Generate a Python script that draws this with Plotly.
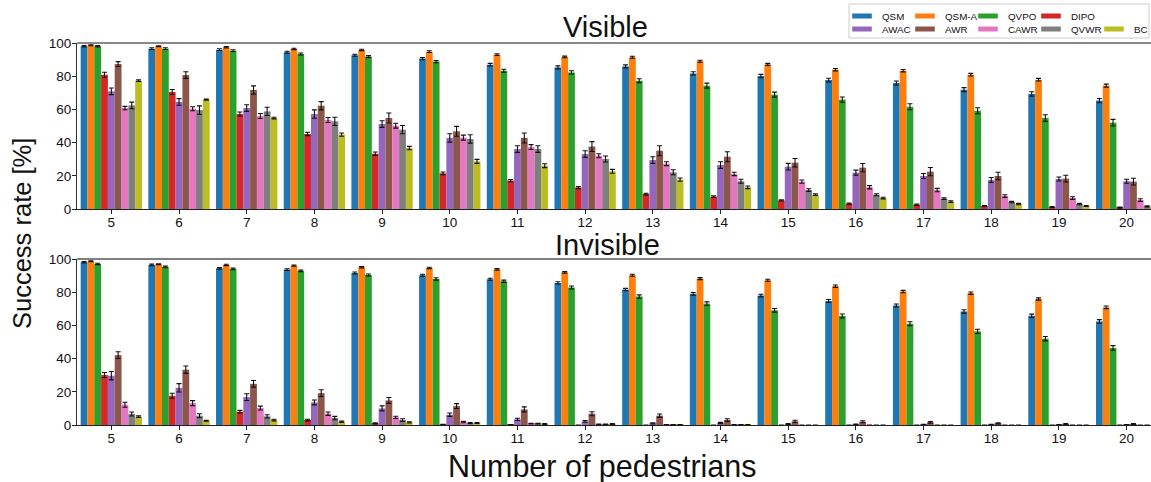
import plotly.graph_objects as go

categories = [str(n) for n in range(5, 21)]
methods = ["QSM", "QSM-A", "QVPO", "DIPO", "AWAC", "AWR", "CAWR", "QVWR", "BC"]
colors = ["#1f77b4", "#ff7f0e", "#2ca02c", "#d62728", "#9467bd",
          "#8c564b", "#e377c2", "#7f7f7f", "#bcbd22"]

# ---- Visible ----
vis_QSM   = [98.0, 96.6, 96.0, 94.4, 92.6, 90.6, 86.9, 85.3, 85.9, 81.7, 80.1, 77.7, 75.9, 71.9, 69.3, 65.3]
vis_QSMA  = [98.6, 98.0, 97.4, 96.4, 95.8, 94.8, 93.0, 91.6, 91.4, 89.0, 87.1, 83.9, 83.3, 80.9, 77.9, 74.3]
vis_QVPO  = [98.0, 96.6, 95.4, 93.4, 91.8, 88.8, 83.3, 82.3, 77.3, 74.3, 68.9, 65.9, 61.6, 59.2, 54.8, 52.0]
vis_DIPO  = [80.9, 70.5, 57.2, 45.2, 33.3, 21.5, 17.1, 12.9, 9.0, 7.4, 5.2, 3.2, 2.6, 1.8, 1.2, 0.8]
vis_AWAC  = [70.9, 64.5, 60.8, 57.2, 51.2, 42.8, 36.1, 33.1, 29.5, 26.5, 25.5, 21.9, 19.9, 17.5, 18.1, 16.7]
vis_AWR   = [87.3, 80.7, 71.7, 62.2, 54.8, 46.8, 42.8, 37.6, 35.1, 31.5, 27.9, 24.9, 22.5, 19.9, 18.3, 16.5]
vis_CAWR  = [60.8, 60.4, 56.0, 53.6, 50.2, 43.0, 37.3, 32.1, 27.3, 21.1, 16.5, 13.1, 11.4, 7.8, 6.6, 5.4]
vis_QVWR  = [62.4, 59.6, 58.8, 52.8, 47.8, 42.2, 36.1, 30.1, 22.1, 16.7, 11.4, 8.6, 6.2, 4.2, 3.0, 1.6]
vis_BC    = [77.3, 65.9, 54.8, 44.8, 36.7, 28.7, 26.1, 22.7, 17.7, 13.1, 8.6, 6.6, 4.4, 3.0, 1.8, 1.2]

vis_QSM_err  = [0.4, 0.5, 0.5, 0.6, 0.6, 0.7, 0.8, 0.9, 0.9, 1.0, 1.0, 1.1, 1.2, 1.2, 1.3, 1.3]
vis_QSMA_err = [0.3, 0.3, 0.4, 0.4, 0.4, 0.5, 0.5, 0.5, 0.6, 0.6, 0.6, 0.7, 0.7, 0.8, 0.8, 0.9]
vis_QVPO_err = [0.4, 0.5, 0.5, 0.6, 0.6, 0.7, 0.9, 1.0, 1.2, 1.5, 1.5, 1.6, 1.8, 1.8, 2.0, 2.0]
vis_DIPO_err = [1.5, 1.5, 1.2, 1.0, 1.0, 0.8, 0.7, 0.6, 0.5, 0.5, 0.4, 0.4, 0.4, 0.3, 0.3, 0.3]
vis_AWAC_err = [2.0, 2.0, 2.0, 2.5, 2.0, 2.5, 2.0, 2.0, 2.0, 2.0, 2.0, 1.5, 1.5, 1.5, 1.2, 1.2]
vis_AWR_err  = [1.5, 2.0, 2.5, 2.5, 3.0, 3.0, 3.0, 3.0, 3.0, 3.0, 2.5, 2.5, 2.5, 2.2, 2.0, 2.0]
vis_CAWR_err = [1.0, 1.2, 1.5, 1.5, 1.5, 1.5, 1.5, 1.2, 1.2, 1.0, 1.0, 1.0, 1.0, 0.8, 0.8, 0.8]
vis_QVWR_err = [2.0, 2.5, 2.5, 2.5, 2.5, 2.5, 2.0, 1.8, 1.5, 1.2, 0.8, 0.6, 0.5, 0.4, 0.4, 0.3]
vis_BC_err   = [0.5, 0.3, 0.5, 1.0, 1.0, 1.2, 1.2, 1.2, 1.0, 0.8, 0.5, 0.5, 0.5, 0.4, 0.3, 0.3]

# ---- Invisible ----
inv_QSM   = [98.0, 96.4, 94.4, 93.6, 91.6, 90.2, 87.8, 85.6, 81.6, 79.0, 78.0, 74.7, 72.0, 68.4, 65.8, 62.4]
inv_QSMA  = [98.6, 96.8, 96.4, 96.0, 95.0, 94.6, 93.8, 92.0, 90.2, 88.2, 87.2, 83.6, 80.4, 79.4, 75.9, 70.9]
inv_QVPO  = [97.0, 95.2, 94.0, 92.8, 90.4, 88.0, 86.6, 82.8, 77.4, 73.1, 69.1, 65.7, 61.0, 56.4, 52.0, 46.4]
inv_DIPO  = [30.1, 17.6, 8.0, 3.0, 1.0, 0.2, 0.1, 0.0, 0.0, 0.0, 0.0, 0.0, 0.0, 0.0, 0.0, 0.0]
inv_AWAC  = [29.7, 22.4, 16.8, 13.6, 10.0, 6.2, 3.4, 2.2, 1.0, 1.2, 0.6, 0.4, 0.2, 0.2, 0.1, 0.1]
inv_AWR   = [42.1, 33.3, 24.8, 19.2, 14.8, 11.4, 9.4, 6.8, 5.6, 3.0, 2.2, 2.0, 1.6, 1.0, 0.6, 0.6]
inv_CAWR  = [12.2, 13.2, 10.2, 6.8, 4.6, 1.8, 0.8, 0.4, 0.2, 0.1, 0.0, 0.0, 0.0, 0.0, 0.0, 0.0]
inv_QVWR  = [6.6, 5.6, 5.2, 4.2, 3.0, 1.2, 0.8, 0.4, 0.2, 0.1, 0.0, 0.0, 0.0, 0.0, 0.0, 0.0]
inv_BC    = [5.0, 2.6, 3.0, 2.0, 1.6, 1.2, 0.6, 0.6, 0.2, 0.1, 0.0, 0.0, 0.0, 0.0, 0.0, 0.0]

inv_QSM_err  = [0.4, 0.5, 0.5, 0.5, 0.6, 0.6, 0.6, 0.7, 0.7, 0.8, 0.8, 0.9, 0.9, 1.0, 1.0, 1.1]
inv_QSMA_err = [0.3, 0.3, 0.4, 0.4, 0.4, 0.4, 0.5, 0.5, 0.6, 0.6, 0.6, 0.7, 0.7, 0.7, 0.7, 0.8]
inv_QVPO_err = [0.4, 0.5, 0.5, 0.5, 0.6, 0.7, 0.7, 0.9, 1.0, 1.1, 1.1, 1.2, 1.2, 1.3, 1.3, 1.4]
inv_DIPO_err = [1.5, 1.5, 0.8, 0.5, 0.3, 0.2, 0.1, 0.0, 0.0, 0.0, 0.0, 0.0, 0.0, 0.0, 0.0, 0.0]
inv_AWAC_err = [2.5, 2.5, 2.0, 1.5, 1.5, 1.0, 0.7, 0.5, 0.4, 0.4, 0.3, 0.2, 0.2, 0.2, 0.1, 0.1]
inv_AWR_err  = [2.0, 2.2, 2.0, 2.0, 1.8, 1.5, 1.5, 1.2, 1.0, 0.8, 0.7, 0.6, 0.5, 0.4, 0.3, 0.3]
inv_CAWR_err = [1.5, 1.5, 1.2, 1.0, 0.7, 0.4, 0.2, 0.2, 0.1, 0.1, 0.0, 0.0, 0.0, 0.0, 0.0, 0.0]
inv_QVWR_err = [1.2, 1.2, 1.0, 1.0, 0.8, 0.3, 0.2, 0.2, 0.1, 0.1, 0.0, 0.0, 0.0, 0.0, 0.0, 0.0]
inv_BC_err   = [0.5, 0.3, 0.5, 0.4, 0.4, 0.3, 0.2, 0.2, 0.1, 0.1, 0.0, 0.0, 0.0, 0.0, 0.0, 0.0]

visible = [vis_QSM, vis_QSMA, vis_QVPO, vis_DIPO, vis_AWAC, vis_AWR, vis_CAWR, vis_QVWR, vis_BC]
visible_err = [vis_QSM_err, vis_QSMA_err, vis_QVPO_err, vis_DIPO_err, vis_AWAC_err,
               vis_AWR_err, vis_CAWR_err, vis_QVWR_err, vis_BC_err]
invisible = [inv_QSM, inv_QSMA, inv_QVPO, inv_DIPO, inv_AWAC, inv_AWR, inv_CAWR, inv_QVWR, inv_BC]
invisible_err = [inv_QSM_err, inv_QSMA_err, inv_QVPO_err, inv_DIPO_err, inv_AWAC_err,
                 inv_AWR_err, inv_CAWR_err, inv_QVWR_err, inv_BC_err]

W, H = 1151, 482
ML, MR, MT, MB = 77, 0, 43, 57
FONT = "Liberation Sans, Arial, sans-serif"

fig = go.Figure()
err_style = dict(type="data", color="#111111", thickness=1.1, width=2.5, visible=True)

for i, m in enumerate(methods):
    fig.add_trace(go.Bar(
        x=categories, y=visible[i], name=m, marker_color=colors[i], marker_line_width=0,
        error_y=dict(array=visible_err[i], **err_style),
        xaxis="x", yaxis="y", showlegend=False, offsetgroup=str(i),
    ))
for i, m in enumerate(methods):
    fig.add_trace(go.Bar(
        x=categories, y=invisible[i], name=m, marker_color=colors[i], marker_line_width=0,
        error_y=dict(array=invisible_err[i], **err_style),
        xaxis="x2", yaxis="y2", showlegend=False, offsetgroup=str(i),
    ))
# legend-only entries with wide rectangular swatches
for i, m in enumerate(methods):
    fig.add_trace(go.Scatter(
        x=[None], y=[None], name=m, mode="markers",
        marker=dict(symbol="line-ew-open", size=14, color=colors[i],
                    line=dict(color=colors[i], width=5)),
        xaxis="x", yaxis="y", legend=("legend" if i < 4 else "legend2"),
        showlegend=True, hoverinfo="skip",
    ))
    if i == 3:
        # empty fifth slot of the first legend row (as in the reference)
        fig.add_trace(go.Scatter(
            x=[None], y=[None], name=" ", mode="markers",
            marker=dict(symbol="line-ew-open", size=14, color="rgba(0,0,0,0)",
                        line=dict(color="rgba(0,0,0,0)", width=5)),
            xaxis="x", yaxis="y", legend="legend", showlegend=True, hoverinfo="skip",
        ))

plot_h = H - MT - MB
top_lo = (H - MB - 209) / plot_h
bot_hi = (H - MB - 259) / plot_h
plot_w = W - ML - MR

xcommon = dict(type="category", range=[-0.507, 15.36], showline=True, linecolor="#222222",
               linewidth=1, ticks="outside", ticklen=4, tickwidth=1, tickcolor="#222222",
               showgrid=False, zeroline=False, ticklabelstandoff=-3,
               tickfont=dict(family=FONT, size=13.5, color="#111111"))
ycommon = dict(range=[0, 100], showline=True, linecolor="#333333", linewidth=1,
               ticks="outside", ticklen=4, tickwidth=1, tickcolor="#222222",
               tickvals=[0, 20, 40, 60, 80, 100], showgrid=False, zeroline=False,
               ticklabelstandoff=-2,
               tickfont=dict(family=FONT, size=13.5, color="#111111"))

def px_x(px):
    return (px - ML) / plot_w

def px_y(py):
    return (H - MB - py) / plot_h

legend_common = dict(orientation="h", xref="container", yref="container",
                     xanchor="left", yanchor="top",
                     entrywidth=18, entrywidthmode="pixels", itemwidth=30,
                     font=dict(family=FONT, size=9.8, color="#111111"),
                     bgcolor="rgba(0,0,0,0)", borderwidth=0, tracegroupgap=0,
                     itemsizing="trace")

fig.update_layout(
    width=W, height=H,
    margin=dict(l=ML, r=MR, t=MT, b=MB, pad=0, autoexpand=False),
    paper_bgcolor="white", plot_bgcolor="white",
    barmode="group", bargap=0.094, bargroupgap=0,
    font=dict(family=FONT, color="#111111"),
    xaxis=dict(domain=[0, 1], anchor="y", **xcommon),
    yaxis=dict(domain=[top_lo, 1], anchor="x", **ycommon),
    xaxis2=dict(domain=[0, 1], anchor="y2", **xcommon),
    yaxis2=dict(domain=[0, bot_hi], anchor="x2", **ycommon),
    legend=dict(x=842 / W, y=1 - 1.5 / H, **legend_common),
    legend2=dict(x=842 / W, y=1 - 14.5 / H, **legend_common),
    shapes=[
        dict(type="line", xref="x domain", yref="y domain", x0=0, x1=1, y0=1, y1=1,
             line=dict(color="#888888", width=2)),
        dict(type="line", xref="x2 domain", yref="y2 domain", x0=0, x1=1, y0=1, y1=1,
             line=dict(color="#555555", width=1.5)),
        dict(type="rect", xref="paper", yref="paper",
             x0=px_x(849), x1=px_x(1149), y0=px_y(38), y1=px_y(4),
             line=dict(color="#cccccc", width=1), fillcolor="rgba(255,255,255,0)",
             layer="below"),
    ],
    annotations=[
        dict(text="Visible", xref="paper", yref="paper", x=px_x(605), y=px_y(27),
             showarrow=False, font=dict(family=FONT, size=29, color="#111111"),
             xanchor="center", yanchor="middle"),
        dict(text="Invisible", xref="paper", yref="paper", x=px_x(607), y=px_y(245),
             showarrow=False, font=dict(family=FONT, size=29, color="#111111"),
             xanchor="center", yanchor="middle"),
        dict(text="Success rate [%]", xref="paper", yref="paper", x=px_x(22), y=px_y(234),
             showarrow=False, textangle=-90, font=dict(family=FONT, size=25.5, color="#111111"),
             xanchor="center", yanchor="middle"),
        dict(text="Number of pedestrians", xref="paper", yref="paper", x=px_x(602), y=px_y(466),
             showarrow=False, font=dict(family=FONT, size=30.5, color="#111111"),
             xanchor="center", yanchor="middle"),
    ],
)

fig.write_html("out.html", config={"displayModeBar": False},
               post_script="document.body.style.margin='0px';document.body.style.padding='0px';")
